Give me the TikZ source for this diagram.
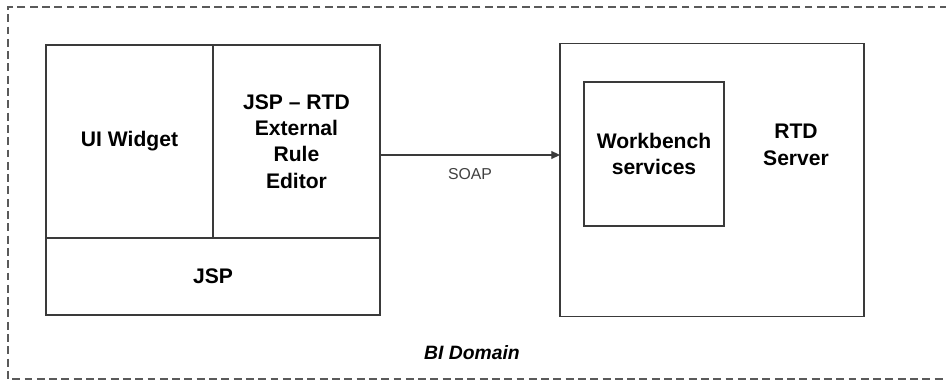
\documentclass[tikz,border=0pt]{standalone}
\usepackage{fontspec}
\setmainfont{Liberation Sans}
\usetikzlibrary{positioning, arrows.meta}
\definecolor{cLINE}{HTML}{3A3A3A}
\definecolor{cDASH}{HTML}{5A5A5A}
\tikzset{
  cellbox/.style={
    draw=cLINE, line width=0.8pt,
    outer sep=0pt,
    inner sep=0pt,
    align=center,
    text=black,
    font=\fontsize{12}{15}\selectfont\bfseries
  },
  plainlabel/.style={
    align=center,
    inner sep=1pt,
    font=\fontsize{12}{15}\selectfont\bfseries
  },
  flow/.style={
    -{Triangle[length=5pt,width=4.5pt]},
    line width=0.8pt,
    draw=cLINE
  },
  protolabel/.style={
    font=\fontsize{9}{11}\selectfont,
    text=black!75,
    midway,
    below=6pt,
    inner sep=1pt
  },
  domainline/.style={
    draw=cDASH, line width=0.8pt,
    dash pattern=on 4.5pt off 2.5pt
  }
}

\begin{document}
\begin{tikzpicture}[x=0.02cm, y=-0.02cm]
  \useasboundingbox (0,0) rectangle (946,381);
  \draw[domainline] (960,7) -- (8,7) -- (8,379) -- (960,379);

  \node[cellbox, minimum width=3.34cm, minimum height=3.86cm] (uiw) at (129.5,141.5) {UI Widget};
  \node[cellbox, minimum width=3.34cm, minimum height=3.86cm, right=0cm of uiw] (jspr) {JSP -- RTD\\External\\Rule\\Editor};
  \node[cellbox, minimum width=6.68cm, minimum height=1.54cm, below=0cm of uiw.south east] (jsp) {JSP};

  \node[cellbox, minimum width=6.08cm, minimum height=5.45cm] (rtd) at (712,180) {};
  \node[cellbox, minimum width=2.8cm, minimum height=2.88cm] (wb) at (654,154) {Workbench\\services};
  \node[plainlabel] (rtdlbl) at (796,145) {RTD\\Server};

  \draw[flow] (jspr.east) ++(0,13.5) coordinate (soapstart) -- (soapstart -| rtd.west)
    node[protolabel] (soap) {SOAP};

  \node[font=\fontsize{11}{13}\selectfont\bfseries\itshape] (dom) at (472,353) {BI Domain};
\end{tikzpicture}
\end{document}
